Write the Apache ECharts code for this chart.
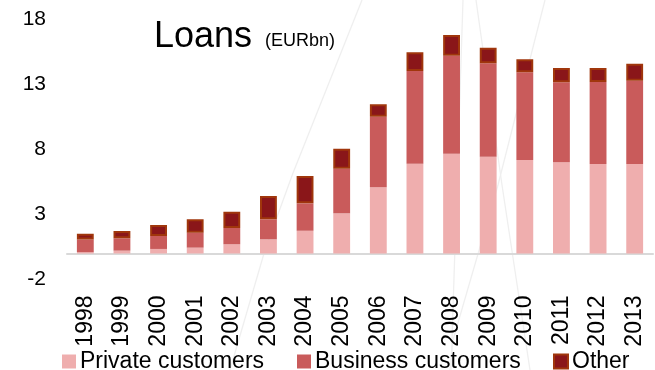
<!DOCTYPE html>
<html>
<head>
<meta charset="utf-8">
<script src="https://cdn.jsdelivr.net/npm/echarts@6/dist/echarts.min.js"></script>
<style>
  html, body { margin: 0; padding: 0; background: #fff; }
  #chart { width: 655px; height: 370px; }
</style>
</head>
<body>
<div id="chart"></div>
<script>
// Loans by customer group, EUR bn
const years = ['1998','1999','2000','2001','2002','2003','2004','2005','2006','2007','2008','2009','2010','2011','2012','2013'];
const privateCustomers  = [0.10, 0.22, 0.35, 0.45, 0.71, 1.09, 1.75, 3.09, 5.09, 6.91, 7.68, 7.45, 7.19, 7.02, 6.88, 6.88];
const businessCustomers = [0.98, 0.95, 1.00, 1.15, 1.25, 1.54, 2.11, 3.43, 5.43, 7.13, 7.54, 7.18, 6.75, 6.15, 6.31, 6.41];
const otherLoans        = [0.44, 0.56, 0.84, 1.03, 1.26, 1.79, 2.10, 1.54, 0.96, 1.44, 1.59, 1.20, 1.00, 1.10, 1.08, 1.31];
const yTicks = { min: -2, max: 18, step: 5 };

const FONT = '"Liberation Sans", Arial, sans-serif';
const COLORS = { priv: '#efaeae', biz: '#c95b5b', other: '#8a1619', otherEdge: '#a0360c' };

const chart = echarts.init(document.getElementById('chart'), null, { renderer: 'canvas' });

// faint background strokes
const bgLine = pts => ({
  type: 'polyline', z: 0, silent: true,
  shape: { points: pts },
  style: { stroke: '#efefef', lineWidth: 1.3, fill: null }
});

const legendBase = {
  top: 350, itemWidth: 14, itemHeight: 14, itemGap: 0, icon: 'rect', padding: 0,
  textStyle: { fontFamily: FONT, fontSize: 23, color: '#000', padding: [0, 0, 0, -1] }
};

chart.setOption({
  animation: false,
  backgroundColor: '#fff',
  title: [
    { text: 'Loans', left: 154, top: 19, padding: 0,
      textStyle: { fontFamily: FONT, fontSize: 36, fontWeight: 'normal', color: '#000' } },
    { text: '(EURbn)', left: 265, top: 32, padding: 0,
      textStyle: { fontFamily: FONT, fontSize: 18, fontWeight: 'normal', color: '#000' } }
  ],
  legend: [
    Object.assign({}, legendBase, { left: 62, data: ['Private customers'] }),
    Object.assign({}, legendBase, { left: 297, data: ['Business customers'] }),
    Object.assign({}, legendBase, { left: 553, data: ['Other'] })
  ],
  grid: { left: 67, right: 2, top: 19.5, bottom: 90.5, containLabel: false },
  xAxis: {
    type: 'category',
    data: years,
    axisLine: { onZero: true, lineStyle: { color: '#d9d9d9', width: 2 } },
    axisTick: { show: false },
    axisLabel: { rotate: 90, margin: 16, fontFamily: FONT, fontSize: 23, color: '#000', interval: 0 }
  },
  yAxis: {
    type: 'value',
    min: yTicks.min, max: yTicks.max, interval: yTicks.step,
    axisLine: { show: false },
    axisTick: { show: false },
    splitLine: { show: false },
    axisLabel: { margin: 21, fontFamily: FONT, fontSize: 21, color: '#000' }
  },
  graphic: [
    bgLine([[362, 0], [293, 173], [265, 250], [230, 370]]),
    bgLine([[463, 0], [451, 370]]),
    bgLine([[476, 0], [502, 185], [530, 370]]),
    bgLine([[545, 0], [498, 185], [453, 340], [450, 370]])
  ],
  series: [
    { name: 'Private customers', type: 'bar', stack: 'loans', barWidth: '46%', z: 3,
      itemStyle: { color: COLORS.priv }, data: privateCustomers },
    { name: 'Business customers', type: 'bar', stack: 'loans', z: 3,
      itemStyle: { color: COLORS.biz }, data: businessCustomers },
    { name: 'Other', type: 'bar', stack: 'loans', z: 3,
      itemStyle: { color: COLORS.other, borderColor: COLORS.otherEdge, borderWidth: 2 }, data: otherLoans }
  ]
});
</script>
</body>
</html>
